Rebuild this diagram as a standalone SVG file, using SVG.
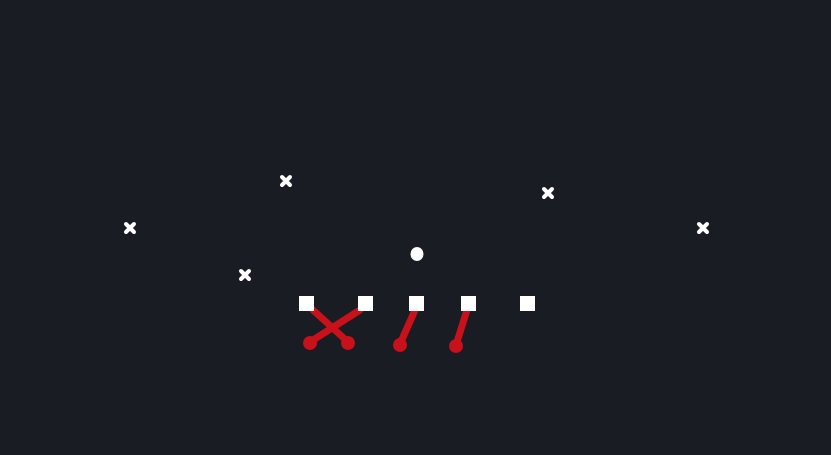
<svg xmlns="http://www.w3.org/2000/svg" width="831" height="455" viewBox="0 0 831 455">
<defs>
<style>
.x{stroke:#ffffff;stroke-width:4;stroke-linecap:round;fill:none}
.sq{fill:#ffffff}
.rt{stroke:#c8111a;stroke-width:7;stroke-linecap:round;fill:none}
.end{fill:#c8111a}
</style>
</defs>
<rect x="0" y="0" width="831" height="455" fill="#191c22"/>
<g id="connectors">
<line class="rt" x1="313" y1="310" x2="348" y2="342"/>
<circle class="end" cx="348" cy="343" r="7"/>
<line class="rt" x1="360" y1="310" x2="310" y2="342"/>
<circle class="end" cx="310" cy="343" r="7"/>
<line class="rt" x1="415" y1="310" x2="400" y2="344"/>
<circle class="end" cx="400" cy="345" r="7"/>
<line class="rt" x1="467" y1="310" x2="456" y2="345"/>
<circle class="end" cx="456" cy="346" r="7"/>
</g>
<g id="ol1"><rect class="sq" x="299" y="296" width="15" height="15"/></g>
<g id="ol2"><rect class="sq" x="358" y="296" width="15" height="15"/></g>
<g id="ol3"><rect class="sq" x="409" y="296" width="15" height="15"/></g>
<g id="ol4"><rect class="sq" x="461" y="296" width="15" height="15"/></g>
<g id="ol5"><rect class="sq" x="520" y="296" width="15" height="15"/></g>
<g id="qb"><ellipse cx="417" cy="254" rx="6.5" ry="7" fill="#ffffff"/></g>
<g id="x1"><path class="x" d="M126 224 L134 232 M134 224 L126 232"/></g>
<g id="x2"><path class="x" d="M282 177 L290 185 M290 177 L282 185"/></g>
<g id="x3"><path class="x" d="M544 189 L552 197 M552 189 L544 197"/></g>
<g id="x4"><path class="x" d="M699 224 L707 232 M707 224 L699 232"/></g>
<g id="x5"><path class="x" d="M241 271 L249 279 M249 271 L241 279"/></g>
</svg>
